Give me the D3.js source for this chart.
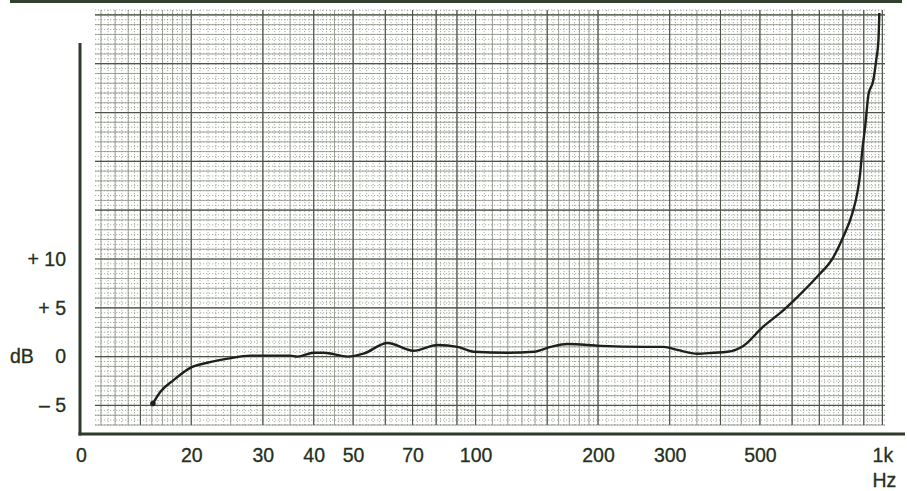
<!DOCTYPE html>
<html>
<head>
<meta charset="utf-8">
<script src="https://cdn.jsdelivr.net/npm/d3@7"></script>
<style>
    body { margin: 0; background: #ffffff; }
    svg { display: block; }
    .label { font-family: 'Liberation Sans', Arial, sans-serif; fill: #263020; stroke: #263020; stroke-width: 0.3px; }
</style>
</head>
<body>
<div id="chart"></div>
<script>
const frequencies = [16.1, 16.8, 18.1, 20, 22, 24.6, 28, 35, 36.5, 40, 42.3, 48.5, 53, 60.8, 70.4, 80.6, 90.3, 99,
    120, 139, 153, 168, 203, 259, 290, 313, 351, 384, 416, 455, 510, 562, 618, 692, 758, 802, 844, 868, 881,
    893, 908, 924, 950, 966, 978, 983];
const levels = [-4.8, -3.6, -2.4, -1.1, -0.6, -0.2, 0.1, 0.1, 0.0, 0.4, 0.4, 0.0, 0.3, 1.4, 0.6, 1.2, 1.0, 0.5,
    0.4, 0.5, 1.0, 1.3, 1.1, 1.0, 1.0, 0.7, 0.3, 0.4, 0.5, 1.1, 3.1, 4.5, 6.1, 8.2, 10.2, 12.3, 14.7, 16.8, 18.6,
    21.2, 23.7, 26.8, 28.3, 30.4, 32.4, 35.2];

const xTickValues = [20, 30, 40, 50, 70, 100, 200, 300, 500, 1000];
const xTickLabels = ['20', '30', '40', '50', '70', '100', '200', '300', '500', '1k'];
const yTickValues = [10, 5, 0, -5];
const yTickLabels = ['+ 10', '+ 5', '0', '\u2013 5'];

const width = 907;
const height = 491;
const plot = { left: 95, right: 885, top: 10, bottom: 425 };
const axisX = 80;
const axisY = 434;

const svg = d3.select('#chart')
    .append('svg')
    .attr('width', width)
    .attr('height', height);

const x = d3.scaleLog()
    .domain([11.6, 1015])
    .range([plot.left, plot.right]);

const y = d3.scaleLinear()
    .domain([-7, 35.5])
    .range([plot.bottom, plot.top]);

// log paper rulings
const mantissas = ranges => {
    const out = [];
    ranges.forEach(([a, b, s]) => {
        for (let m = a; m < b - 1e-9; m += s) out.push(+m.toFixed(3));
    });
    return out;
}

const perDecade = list => {
    const out = [];
    [10, 100, 1000].forEach(d => list.forEach(m => {
        const f = d * m;
        if (f >= x.domain()[0] && f <= x.domain()[1]) out.push(f);
    }));
    return out;
}

const fineF = perDecade(mantissas([[1, 2, 0.05], [2, 5, 0.1], [5, 10, 0.2]]));
const midF = perDecade(mantissas([[1, 2, 0.1], [2, 5, 0.5], [5, 10, 1]]));
const darkF = perDecade([1, 1.5, 2, 3, 4, 5, 6, 7, 8, 9]);

const fineDb = d3.range(-7, 35.51, 0.5);
const midDb = d3.range(-7, 35.51, 1);
const darkDb = d3.range(-5, 35.51, 5);

const grid = svg.append('g');

const vLines = (vals, color, w, dash) => grid.append('g')
    .selectAll('line')
    .data(vals)
    .enter()
    .append('line')
    .attr('x1', d => x(d)).attr('x2', d => x(d))
    .attr('y1', plot.top).attr('y2', plot.bottom)
    .attr('stroke', color)
    .attr('stroke-width', w)
    .attr('stroke-dasharray', dash);

const hLines = (vals, color, w, dash) => grid.append('g')
    .selectAll('line')
    .data(vals)
    .enter()
    .append('line')
    .attr('x1', plot.left).attr('x2', plot.right)
    .attr('y1', d => y(d)).attr('y2', d => y(d))
    .attr('stroke', color)
    .attr('stroke-width', w)
    .attr('stroke-dasharray', dash);

vLines(fineF, '#9ba196', 0.9, '1.2,1.8');
hLines(fineDb, '#9ba196', 0.9, '1.2,1.8');
vLines(midF, '#8b9287', 0.8, null);
hLines(midDb, '#8b9287', 0.8, null);
vLines(darkF, '#4d5549', 1.1, null);
hLines(darkDb, '#4d5549', 1.2, null);

// scan edge at top
svg.append('rect')
    .attr('x', 10)
    .attr('y', 0)
    .attr('width', 892)
    .attr('height', 3)
    .attr('fill', '#34402f');

// axes frame
svg.append('line')
    .attr('x1', axisX).attr('x2', axisX)
    .attr('y1', 43).attr('y2', axisY + 1.5)
    .attr('stroke', '#2e3a2a')
    .attr('stroke-width', 3);

svg.append('line')
    .attr('x1', axisX - 1.5).attr('x2', 905)
    .attr('y1', axisY).attr('y2', axisY)
    .attr('stroke', '#2e3a2a')
    .attr('stroke-width', 3);

// response curve
const data = frequencies.map((f, i) => ({ f: f, db: levels[i] }));

const line = d3.line()
    .x(d => x(d.f))
    .y(d => y(d.db))
    .curve(d3.curveMonotoneX);

svg.append('path')
    .datum(data)
    .attr('fill', 'none')
    .attr('stroke', '#1c221a')
    .attr('stroke-width', 2.4)
    .attr('stroke-linejoin', 'round')
    .attr('d', line);

svg.append('circle')
    .attr('cx', x(data[0].f))
    .attr('cy', y(data[0].db))
    .attr('r', 2.8)
    .attr('fill', '#1c221a');

// x axis labels
const xAxis = svg.append('g')
    .attr('transform', `translate(0,${axisY})`)
    .call(d3.axisBottom(x)
        .tickValues(xTickValues)
        .tickFormat((d, i) => xTickLabels[i])
        .tickSize(0)
        .tickPadding(14));

xAxis.select('.domain').remove();
xAxis.selectAll('text')
    .attr('class', 'label')
    .attr('font-size', 19.5);

svg.append('text')
    .attr('class', 'label')
    .attr('x', axisX + 1.5)
    .attr('y', axisY + 14)
    .attr('dy', '0.71em')
    .attr('text-anchor', 'middle')
    .attr('font-size', 19.5)
    .text('0');

svg.append('text')
    .attr('class', 'label')
    .attr('x', x(1000) + 2)
    .attr('y', axisY + 39)
    .attr('dy', '0.71em')
    .attr('text-anchor', 'middle')
    .attr('font-size', 19.5)
    .text('Hz');

// y axis labels
const yAxis = svg.append('g')
    .attr('transform', 'translate(66,0)')
    .call(d3.axisLeft(y)
        .tickValues(yTickValues)
        .tickFormat((d, i) => yTickLabels[i])
        .tickSize(0)
        .tickPadding(0));

yAxis.select('.domain').remove();
yAxis.selectAll('text')
    .attr('class', 'label')
    .attr('font-size', 19.5);

svg.append('text')
    .attr('class', 'label')
    .attr('x', 10)
    .attr('y', y(0))
    .attr('dy', '0.35em')
    .attr('font-size', 19.5)
    .text('dB');
</script>
</body>
</html>
